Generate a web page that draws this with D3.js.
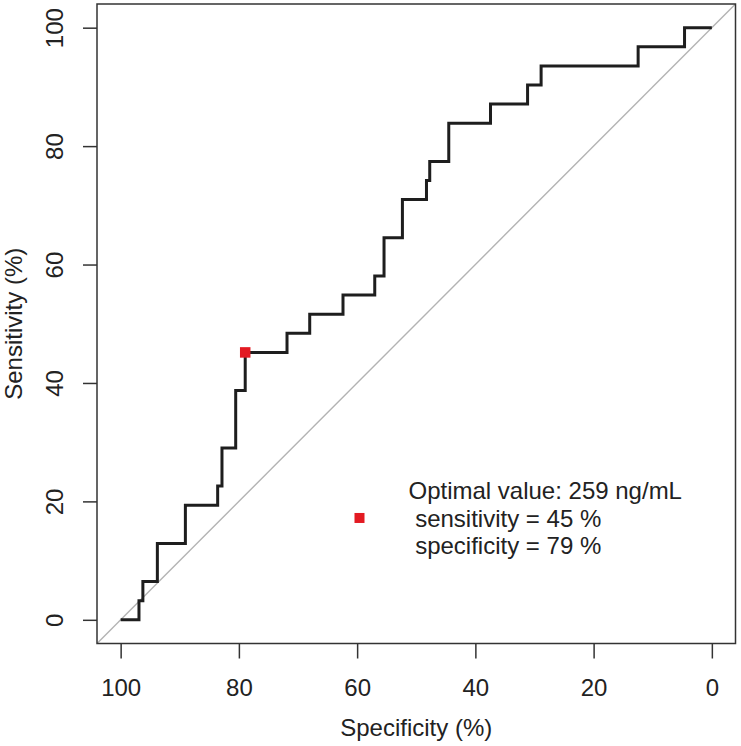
<!DOCTYPE html>
<html>
<head>
<meta charset="utf-8">
<script src="https://cdn.jsdelivr.net/npm/d3@7"></script>
<style>
  html, body { margin: 0; padding: 0; background: #fff; }
  text { font-family: "Liberation Sans", Arial, Helvetica, sans-serif; fill: #222; }
</style>
</head>
<body>
<svg id="chart" width="741" height="746"></svg>
<script>
// ROC curve vertices (specificity %, sensitivity %)
const specificity = [100, 96.9, 96.24, 93.79, 89.05, 83.59, 82.86, 80.54, 78.93, 71.86, 68.02, 62.39, 57.02, 55.45, 52.34, 48.27, 47.72, 44.5, 37.44, 31.17, 28.88, 12.47, 4.62, 0];
const sensitivity = [0, 3.23, 6.45, 12.9, 19.35, 22.58, 29.03, 38.71, 45.16, 48.39, 51.61, 54.84, 58.06, 64.52, 70.97, 74.19, 77.42, 83.87, 87.1, 90.32, 93.55, 96.77, 100, 100];
const xTicks = [100, 80, 60, 40, 20, 0];
const yTicks = [0, 20, 40, 60, 80, 100];
const optimalPoint = { spec: 78.93, sens: 45.16 };
const legendAnchor = { spec: 59.6, sens: 17.2 };
const legendLines = ["Optimal value: 259 ng/mL", " sensitivity = 45 %", " specificity = 79 %"];

(function () {
const svg = d3.select("#chart");
const pLeft = 97, pRight = 735.5, pTop = 4, pBottom = 643.5;
const x = d3.scaleLinear().domain([104, -4]).range([pLeft, pRight]);
const y = d3.scaleLinear().domain([-4, 104]).range([pBottom, pTop]);
const fs = 24;

svg.append("defs").append("clipPath").attr("id", "clip")
  .append("rect").attr("x", pLeft).attr("y", pTop).attr("width", pRight - pLeft).attr("height", pBottom - pTop);

// diagonal reference line
svg.append("line")
  .attr("clip-path", "url(#clip)")
  .attr("x1", x(104)).attr("y1", y(-4)).attr("x2", x(-4)).attr("y2", y(104))
  .attr("stroke", "#b3b3b3").attr("stroke-width", 1.4);

// ROC curve
const pts = specificity.map((s, i) => [s, sensitivity[i]]);
const line = d3.line().x(d => x(d[0])).y(d => y(d[1])).curve(d3.curveStepAfter);
svg.append("path").datum(pts)
  .attr("d", line)
  .attr("fill", "none").attr("stroke", "#1e1e1e").attr("stroke-width", 3)
  .attr("stroke-linejoin", "miter").attr("stroke-linecap", "butt");

// optimal point
const red = "#e31a22";
const sq = 10.5;
svg.append("rect")
  .attr("x", x(optimalPoint.spec) - sq / 2).attr("y", y(optimalPoint.sens) - sq / 2)
  .attr("width", sq).attr("height", sq).attr("fill", red);

// legend
const lx = x(legendAnchor.spec), ly = y(legendAnchor.sens);
svg.append("rect").attr("x", lx - 5).attr("y", ly - 5).attr("width", 10).attr("height", 10).attr("fill", red);
legendLines.forEach((t, i) => {
  svg.append("text")
    .attr("x", lx + 49).attr("y", ly - 19 + i * 27.7)
    .attr("font-size", fs)
    .attr("xml:space", "preserve")
    .style("white-space", "pre")
    .text(t);
});

// box
svg.append("rect").attr("x", pLeft).attr("y", pTop).attr("width", pRight - pLeft).attr("height", pBottom - pTop)
  .attr("fill", "none").attr("stroke", "#333").attr("stroke-width", 1.5);

// x axis
const xa = svg.append("g").attr("transform", `translate(0,${pBottom})`)
  .call(d3.axisBottom(x).tickValues(xTicks).tickSize(15).tickSizeOuter(0).tickFormat(d3.format("d")));
xa.select(".domain").remove();
xa.selectAll(".tick line").attr("stroke", "#333").attr("stroke-width", 1.5);
xa.selectAll(".tick text").attr("font-size", fs).attr("dy", null).attr("y", 52)
  .attr("font-family", "Liberation Sans, Arial, sans-serif").attr("fill", "#222");

// y axis
const ya = svg.append("g").attr("transform", `translate(${pLeft},0)`)
  .call(d3.axisLeft(y).tickValues(yTicks).tickSize(14).tickSizeOuter(0).tickFormat(d3.format("d")));
ya.select(".domain").remove();
ya.selectAll(".tick line").attr("stroke", "#333").attr("stroke-width", 1.5);
ya.selectAll(".tick text")
  .attr("font-size", fs).attr("x", null).attr("dy", null)
  .attr("text-anchor", "middle")
  .attr("transform", "translate(-34,0) rotate(-90)")
  .attr("font-family", "Liberation Sans, Arial, sans-serif").attr("fill", "#222");

// axis titles
svg.append("text").attr("x", (pLeft + pRight) / 2).attr("y", 736).attr("text-anchor", "middle")
  .attr("font-size", fs).text("Specificity (%)");
svg.append("text").attr("transform", `translate(22,${(pTop + pBottom) / 2}) rotate(-90)`)
  .attr("text-anchor", "middle").attr("font-size", fs).text("Sensitivity (%)");
})();
</script>
</body>
</html>
